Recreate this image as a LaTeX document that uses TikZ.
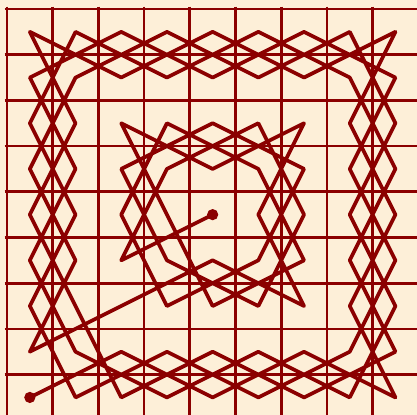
\documentclass[tikz,border=0pt]{standalone}
\usepackage{tikz}

\definecolor{paper}{RGB}{253,239,216}
\definecolor{ink}{RGB}{139,0,0}

\begin{document}
\begin{tikzpicture}[
    board/.style={draw=ink, line width=1.7pt},
    tour/.style={draw=ink, line width=2.3pt, line join=round, line cap=round},
    spot/.style={circle, fill=ink, inner sep=0pt, minimum size=7pt}]

    \useasboundingbox (-0.153,0.197) rectangle (8.972,-8.884);
    \clip (-0.153,0.197) rectangle (8.972,-8.884);
    \fill[paper] (-0.153,0.197) rectangle (8.972,-8.884);

    %%% The board
    \foreach \k in {0,...,9} {
        \draw[board] (\k,0.05) -- (\k,-9.05);
        \draw[board] (-0.05,-\k) -- (9.05,-\k);
    }

    %%% Square centres: q<column><row>, row 0 on top
    \foreach \c in {0,...,8}
        \foreach \r in {0,...,8}
            \coordinate (q\c\r) at (\c+0.5,-\r-0.5);

    %%% The knight's path
    % first circuit of the outer ring
    \draw[tour] (q08) -- (q27) -- (q48) -- (q67) -- (q88) -- (q76) -- (q84)
        -- (q72) -- (q80) -- (q61) -- (q40) -- (q21) -- (q00) -- (q12)
        -- (q04) -- (q16)
    % second circuit of the outer ring
        -- (q28) -- (q47) -- (q68) -- (q87) -- (q75) -- (q83) -- (q71)
        -- (q50) -- (q31) -- (q10) -- (q02) -- (q14) -- (q06) -- (q18)
        -- (q37) -- (q58) -- (q77) -- (q85) -- (q73) -- (q81) -- (q60)
        -- (q41) -- (q20) -- (q01) -- (q13) -- (q05) -- (q17) -- (q38)
        -- (q57) -- (q78) -- (q86) -- (q74) -- (q82) -- (q70) -- (q51)
        -- (q30) -- (q11) -- (q03) -- (q15) -- (q07)
    % inner ring
        -- (q26) -- (q45) -- (q66) -- (q54) -- (q62) -- (q43) -- (q22)
        -- (q34) -- (q46) -- (q65) -- (q53) -- (q32) -- (q24) -- (q36)
        -- (q55) -- (q63) -- (q42) -- (q23) -- (q35) -- (q56) -- (q64)
        -- (q52) -- (q33) -- (q25) -- (q44);

    %%% Start and end
    \node[spot] (start) at (q08) {};
    \node[spot] (end) at (q44) {};

\end{tikzpicture}
\end{document}
